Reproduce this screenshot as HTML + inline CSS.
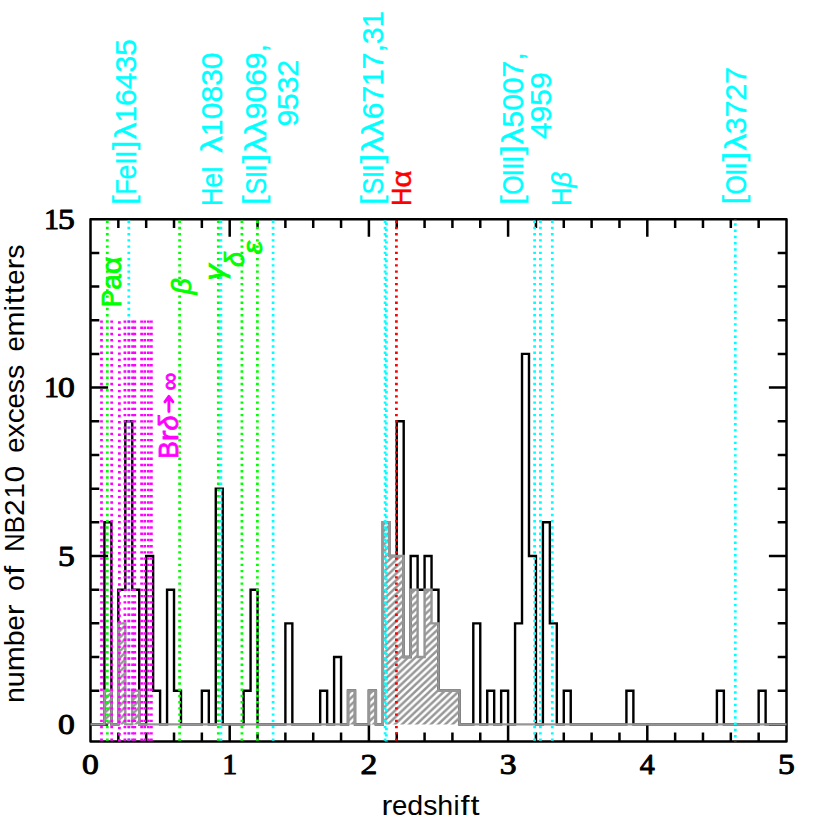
<!DOCTYPE html>
<html lang="en"><head><meta charset="utf-8"><title>NB210 redshift histogram</title>
<style>html,body{margin:0;padding:0;background:#fff}svg{display:block}</style></head>
<body>
<svg width="830" height="830" viewBox="0 0 830 830">
<defs>
<pattern id="hatch" patternUnits="userSpaceOnUse" width="7.2" height="6.8" patternTransform="translate(6.5 3.2)"><path d="M-7.2 6.8 L7.2 -6.8 M-7.2 13.6 L14.4 -6.8 M0 13.6 L14.4 0" stroke="#969696" stroke-width="2.5"/></pattern>
</defs>
<rect width="830" height="830" fill="#ffffff"/>
<g stroke="#000" stroke-width="2.5" fill="none" stroke-linecap="butt">
<rect x="90.50" y="219.20" width="696.00" height="522.20" stroke-linejoin="round"/>
<path d="M118.34 741.40 v-8.80 M118.34 219.20 v8.80 M146.18 741.40 v-8.80 M146.18 219.20 v8.80 M174.02 741.40 v-8.80 M174.02 219.20 v8.80 M201.86 741.40 v-8.80 M201.86 219.20 v8.80 M229.70 741.40 v-17.60 M229.70 219.20 v17.60 M257.54 741.40 v-8.80 M257.54 219.20 v8.80 M285.38 741.40 v-8.80 M285.38 219.20 v8.80 M313.22 741.40 v-8.80 M313.22 219.20 v8.80 M341.06 741.40 v-8.80 M341.06 219.20 v8.80 M368.90 741.40 v-17.60 M368.90 219.20 v17.60 M396.74 741.40 v-8.80 M396.74 219.20 v8.80 M424.58 741.40 v-8.80 M424.58 219.20 v8.80 M452.42 741.40 v-8.80 M452.42 219.20 v8.80 M480.26 741.40 v-8.80 M480.26 219.20 v8.80 M508.10 741.40 v-17.60 M508.10 219.20 v17.60 M535.94 741.40 v-8.80 M535.94 219.20 v8.80 M563.78 741.40 v-8.80 M563.78 219.20 v8.80 M591.62 741.40 v-8.80 M591.62 219.20 v8.80 M619.46 741.40 v-8.80 M619.46 219.20 v8.80 M647.30 741.40 v-17.60 M647.30 219.20 v17.60 M675.14 741.40 v-8.80 M675.14 219.20 v8.80 M702.98 741.40 v-8.80 M702.98 219.20 v8.80 M730.82 741.40 v-8.80 M730.82 219.20 v8.80 M758.66 741.40 v-8.80 M758.66 219.20 v8.80 M90.50 724.40 h17.60 M786.50 724.40 h-17.60 M90.50 690.72 h8.80 M786.50 690.72 h-8.80 M90.50 657.04 h8.80 M786.50 657.04 h-8.80 M90.50 623.36 h8.80 M786.50 623.36 h-8.80 M90.50 589.68 h8.80 M786.50 589.68 h-8.80 M90.50 556.00 h17.60 M786.50 556.00 h-17.60 M90.50 522.32 h8.80 M786.50 522.32 h-8.80 M90.50 488.64 h8.80 M786.50 488.64 h-8.80 M90.50 454.96 h8.80 M786.50 454.96 h-8.80 M90.50 421.28 h8.80 M786.50 421.28 h-8.80 M90.50 387.60 h17.60 M786.50 387.60 h-17.60 M90.50 353.92 h8.80 M786.50 353.92 h-8.80 M90.50 320.24 h8.80 M786.50 320.24 h-8.80 M90.50 286.56 h8.80 M786.50 286.56 h-8.80 M90.50 252.88 h8.80 M786.50 252.88 h-8.80"/>
</g>
<path d="M90.50 724.40 L104.42 724.40 L104.42 522.32 L111.38 522.32 L111.38 724.40 L118.34 724.40 L118.34 589.68 L125.30 589.68 L125.30 421.28 L132.26 421.28 L132.26 589.68 L139.22 589.68 L139.22 724.40 L146.18 724.40 L146.18 556.00 L153.14 556.00 L153.14 690.72 L160.10 690.72 L160.10 724.40 L167.06 724.40 L167.06 589.68 L174.02 589.68 L174.02 690.72 L180.98 690.72 L180.98 724.40 L201.86 724.40 L201.86 690.72 L208.82 690.72 L208.82 724.40 L215.78 724.40 L215.78 488.64 L222.74 488.64 L222.74 724.40 L243.62 724.40 L243.62 690.72 L250.58 690.72 L250.58 589.68 L257.54 589.68 L257.54 724.40 L285.38 724.40 L285.38 623.36 L292.34 623.36 L292.34 724.40 L320.18 724.40 L320.18 690.72 L327.14 690.72 L327.14 724.40 L334.10 724.40 L334.10 657.04 L341.06 657.04 L341.06 724.40 L348.02 724.40 L348.02 690.72 L354.98 690.72 L354.98 724.40 L368.90 724.40 L368.90 690.72 L375.86 690.72 L375.86 724.40 L382.82 724.40 L382.82 522.32 L389.78 522.32 L389.78 556.00 L396.74 556.00 L396.74 421.28 L403.70 421.28 L403.70 657.04 L410.66 657.04 L410.66 556.00 L417.62 556.00 L417.62 589.68 L424.58 589.68 L424.58 556.00 L431.54 556.00 L431.54 589.68 L438.50 589.68 L438.50 690.72 L459.38 690.72 L459.38 724.40 L473.30 724.40 L473.30 623.36 L480.26 623.36 L480.26 724.40 L487.22 724.40 L487.22 690.72 L494.18 690.72 L494.18 724.40 L501.14 724.40 L501.14 690.72 L508.10 690.72 L508.10 724.40 L515.06 724.40 L515.06 623.36 L522.02 623.36 L522.02 353.92 L528.98 353.92 L528.98 556.00 L535.94 556.00 L535.94 724.40 L542.90 724.40 L542.90 522.32 L549.86 522.32 L549.86 623.36 L556.82 623.36 L556.82 724.40 L563.78 724.40 L563.78 690.72 L570.74 690.72 L570.74 724.40 L626.42 724.40 L626.42 690.72 L633.38 690.72 L633.38 724.40 L716.90 724.40 L716.90 690.72 L723.86 690.72 L723.86 724.40 L758.66 724.40 L758.66 690.72 L765.62 690.72 L765.62 724.40 L786.50 724.40" fill="none" stroke="#000" stroke-width="2.4" stroke-linejoin="miter"/>
<path d="M90.50 724.40 L104.42 724.40 L104.42 690.72 L111.38 690.72 L111.38 724.40 L118.34 724.40 L118.34 623.36 L125.30 623.36 L125.30 724.40 L132.26 724.40 L132.26 690.72 L139.22 690.72 L139.22 724.40 L348.02 724.40 L348.02 690.72 L354.98 690.72 L354.98 724.40 L368.90 724.40 L368.90 690.72 L375.86 690.72 L375.86 724.40 L382.82 724.40 L382.82 522.32 L389.78 522.32 L389.78 556.00 L403.70 556.00 L403.70 657.04 L410.66 657.04 L410.66 589.68 L417.62 589.68 L417.62 657.04 L424.58 657.04 L424.58 589.68 L431.54 589.68 L431.54 623.36 L438.50 623.36 L438.50 690.72 L459.38 690.72 L459.38 724.40 L786.50 724.40 Z" fill="url(#hatch)" stroke="none"/>
<path d="M90.50 724.40 L104.42 724.40 L104.42 690.72 L111.38 690.72 L111.38 724.40 L118.34 724.40 L118.34 623.36 L125.30 623.36 L125.30 724.40 L132.26 724.40 L132.26 690.72 L139.22 690.72 L139.22 724.40 L348.02 724.40 L348.02 690.72 L354.98 690.72 L354.98 724.40 L368.90 724.40 L368.90 690.72 L375.86 690.72 L375.86 724.40 L382.82 724.40 L382.82 522.32 L389.78 522.32 L389.78 556.00 L403.70 556.00 L403.70 657.04 L410.66 657.04 L410.66 589.68 L417.62 589.68 L417.62 657.04 L424.58 657.04 L424.58 589.68 L431.54 589.68 L431.54 623.36 L438.50 623.36 L438.50 690.72 L459.38 690.72 L459.38 724.40 L786.50 724.40" fill="none" stroke="#969696" stroke-width="2.4" stroke-linejoin="miter"/>
<g fill="none">
<line x1="128.80" y1="219.20" x2="128.80" y2="741.40" stroke="#00ffff" stroke-width="2.75" stroke-dasharray="2.40 3.84" stroke-dashoffset="4.94"/>
<line x1="220.90" y1="219.20" x2="220.90" y2="741.40" stroke="#00ffff" stroke-width="2.75" stroke-dasharray="2.40 3.84" stroke-dashoffset="4.94"/>
<line x1="273.10" y1="219.20" x2="273.10" y2="741.40" stroke="#00ffff" stroke-width="2.75" stroke-dasharray="2.40 3.84" stroke-dashoffset="4.94"/>
<line x1="385.10" y1="219.20" x2="385.10" y2="741.40" stroke="#00ffff" stroke-width="2.75" stroke-dasharray="2.40 3.84" stroke-dashoffset="4.94"/>
<line x1="386.40" y1="219.20" x2="386.40" y2="741.40" stroke="#00ffff" stroke-width="2.75" stroke-dasharray="2.40 3.84" stroke-dashoffset="2.94"/>
<line x1="534.60" y1="219.20" x2="534.60" y2="741.40" stroke="#00ffff" stroke-width="2.75" stroke-dasharray="2.40 3.84" stroke-dashoffset="4.94"/>
<line x1="540.40" y1="219.20" x2="540.40" y2="741.40" stroke="#00ffff" stroke-width="2.75" stroke-dasharray="2.40 3.84" stroke-dashoffset="4.94"/>
<line x1="552.30" y1="219.20" x2="552.30" y2="741.40" stroke="#00ffff" stroke-width="2.75" stroke-dasharray="2.40 3.84" stroke-dashoffset="4.94"/>
<line x1="735.30" y1="219.20" x2="735.30" y2="741.40" stroke="#00ffff" stroke-width="2.75" stroke-dasharray="2.40 3.84" stroke-dashoffset="2.14"/>
<line x1="101.50" y1="320.54" x2="101.50" y2="741.40" stroke="#ff00ff" stroke-width="2.75" stroke-dasharray="2.40 3.84" stroke-dashoffset="0.20"/>
<line x1="111.70" y1="320.54" x2="111.70" y2="741.40" stroke="#ff00ff" stroke-width="2.75" stroke-dasharray="2.40 3.84" stroke-dashoffset="0.20"/>
<line x1="119.40" y1="320.54" x2="119.40" y2="741.40" stroke="#ff00ff" stroke-width="2.75" stroke-dasharray="2.40 3.84" stroke-dashoffset="5.54"/>
<line x1="124.90" y1="320.54" x2="124.90" y2="741.40" stroke="#ff00ff" stroke-width="2.75" stroke-dasharray="2.40 3.84" stroke-dashoffset="0.20"/>
<line x1="128.90" y1="320.54" x2="128.90" y2="741.40" stroke="#ff00ff" stroke-width="2.75" stroke-dasharray="2.40 3.84" stroke-dashoffset="0.20"/>
<line x1="132.60" y1="320.54" x2="132.60" y2="741.40" stroke="#ff00ff" stroke-width="2.75" stroke-dasharray="2.40 3.84" stroke-dashoffset="0.20"/>
<line x1="134.80" y1="320.54" x2="134.80" y2="741.40" stroke="#ff00ff" stroke-width="2.75" stroke-dasharray="2.40 3.84" stroke-dashoffset="0.20"/>
<line x1="141.60" y1="320.54" x2="141.60" y2="741.40" stroke="#ff00ff" stroke-width="2.75" stroke-dasharray="2.40 3.84" stroke-dashoffset="0.20"/>
<line x1="144.80" y1="320.54" x2="144.80" y2="741.40" stroke="#ff00ff" stroke-width="2.75" stroke-dasharray="2.40 3.84" stroke-dashoffset="0.20"/>
<line x1="148.40" y1="320.54" x2="148.40" y2="741.40" stroke="#ff00ff" stroke-width="2.75" stroke-dasharray="2.40 3.84" stroke-dashoffset="0.20"/>
<line x1="151.40" y1="320.54" x2="151.40" y2="741.40" stroke="#ff00ff" stroke-width="2.75" stroke-dasharray="2.40 3.84" stroke-dashoffset="0.20"/>
</g>
<g fill="none">
<line x1="107.30" y1="219.20" x2="107.30" y2="741.40" stroke="#00ff00" stroke-width="2.75" stroke-dasharray="2.40 3.84" stroke-dashoffset="4.94"/>
<line x1="179.60" y1="219.20" x2="179.60" y2="741.40" stroke="#00ff00" stroke-width="2.75" stroke-dasharray="2.40 3.84" stroke-dashoffset="4.94"/>
<line x1="218.30" y1="219.20" x2="218.30" y2="741.40" stroke="#00ff00" stroke-width="2.75" stroke-dasharray="2.40 3.84" stroke-dashoffset="4.94"/>
<line x1="241.90" y1="219.20" x2="241.90" y2="741.40" stroke="#00ff00" stroke-width="2.75" stroke-dasharray="2.40 3.84" stroke-dashoffset="4.94"/>
<line x1="257.40" y1="219.20" x2="257.40" y2="741.40" stroke="#00ff00" stroke-width="2.75" stroke-dasharray="2.40 3.84" stroke-dashoffset="4.94"/>
<line x1="396.40" y1="219.20" x2="396.40" y2="741.40" stroke="#ff0000" stroke-width="2.75" stroke-dasharray="2.40 3.84" stroke-dashoffset="4.94"/>
</g>
<g transform="translate(135.50 206.10) rotate(-90)" font-family="'Liberation Sans', sans-serif" font-size="29.0" fill="#00ffff" stroke="#00ffff" stroke-width="0.35"><text transform="translate(5.84 -1.3) scale(1.180 1)" text-anchor="middle">[</text><text transform="translate(19.20 0.0) scale(0.860 1)" text-anchor="middle">F</text><text transform="translate(34.23 0.0) scale(0.932 1)" text-anchor="middle">e</text><text x="45.09" y="0.0" text-anchor="middle">I</text><text x="51.77" y="0.0" text-anchor="middle">I</text><text transform="translate(60.95 -1.3) scale(1.180 1)" text-anchor="middle">]</text><text transform="translate(75.15 0.0) scale(1.152 1)" text-anchor="middle">λ</text><text x="91.85" y="0.0" text-anchor="middle">1</text><text transform="translate(108.55 0.0) scale(1.036 1)" text-anchor="middle">6</text><text transform="translate(125.25 0.0) scale(1.036 1)" text-anchor="middle">4</text><text transform="translate(141.95 0.0) scale(1.036 1)" text-anchor="middle">3</text><text transform="translate(158.65 0.0) scale(1.036 1)" text-anchor="middle">5</text></g>
<g transform="translate(222.00 206.10) rotate(-90)" font-family="'Liberation Sans', sans-serif" font-size="29.0" fill="#00ffff" stroke="#00ffff" stroke-width="0.35"><text transform="translate(9.18 0.0) scale(0.877 1)" text-anchor="middle">H</text><text transform="translate(25.88 0.0) scale(0.932 1)" text-anchor="middle">e</text><text x="36.74" y="0.0" text-anchor="middle">I</text><text transform="translate(61.79 0.0) scale(1.152 1)" text-anchor="middle">λ</text><text x="78.49" y="0.0" text-anchor="middle">1</text><text transform="translate(95.19 0.0) scale(1.036 1)" text-anchor="middle">0</text><text transform="translate(111.89 0.0) scale(1.036 1)" text-anchor="middle">8</text><text transform="translate(128.59 0.0) scale(1.036 1)" text-anchor="middle">3</text><text transform="translate(145.29 0.0) scale(1.036 1)" text-anchor="middle">0</text></g>
<g transform="translate(265.60 206.10) rotate(-90)" font-family="'Liberation Sans', sans-serif" font-size="29.0" fill="#00ffff" stroke="#00ffff" stroke-width="0.35"><text transform="translate(5.84 -1.3) scale(1.180 1)" text-anchor="middle">[</text><text transform="translate(20.04 0.0) scale(0.863 1)" text-anchor="middle">S</text><text x="31.73" y="0.0" text-anchor="middle">I</text><text x="38.41" y="0.0" text-anchor="middle">I</text><text transform="translate(47.59 -1.3) scale(1.180 1)" text-anchor="middle">]</text><text transform="translate(61.79 0.0) scale(1.152 1)" text-anchor="middle">λ</text><text transform="translate(78.49 0.0) scale(1.152 1)" text-anchor="middle">λ</text><text transform="translate(95.19 0.0) scale(1.036 1)" text-anchor="middle">9</text><text transform="translate(111.89 0.0) scale(1.036 1)" text-anchor="middle">0</text><text transform="translate(128.59 0.0) scale(1.036 1)" text-anchor="middle">6</text><text transform="translate(145.29 0.0) scale(1.036 1)" text-anchor="middle">9</text><text x="157.81" y="0.0" text-anchor="middle">,</text></g>
<g transform="translate(297.80 126.60) rotate(-90)" font-family="'Liberation Sans', sans-serif" font-size="29.0" fill="#00ffff" stroke="#00ffff" stroke-width="0.35"><text transform="translate(8.35 0.0) scale(1.036 1)" text-anchor="middle">9</text><text transform="translate(25.05 0.0) scale(1.036 1)" text-anchor="middle">5</text><text transform="translate(41.75 0.0) scale(1.036 1)" text-anchor="middle">3</text><text transform="translate(58.45 0.0) scale(1.036 1)" text-anchor="middle">2</text></g>
<g transform="translate(383.20 206.10) rotate(-90)" font-family="'Liberation Sans', sans-serif" font-size="29.0" fill="#00ffff" stroke="#00ffff" stroke-width="0.35"><text transform="translate(5.84 -1.3) scale(1.180 1)" text-anchor="middle">[</text><text transform="translate(20.04 0.0) scale(0.863 1)" text-anchor="middle">S</text><text x="31.73" y="0.0" text-anchor="middle">I</text><text x="38.41" y="0.0" text-anchor="middle">I</text><text transform="translate(47.59 -1.3) scale(1.180 1)" text-anchor="middle">]</text><text transform="translate(61.79 0.0) scale(1.152 1)" text-anchor="middle">λ</text><text transform="translate(78.49 0.0) scale(1.152 1)" text-anchor="middle">λ</text><text transform="translate(95.19 0.0) scale(1.036 1)" text-anchor="middle">6</text><text transform="translate(111.89 0.0) scale(1.036 1)" text-anchor="middle">7</text><text x="128.59" y="0.0" text-anchor="middle">1</text><text transform="translate(145.29 0.0) scale(1.036 1)" text-anchor="middle">7</text><text x="157.81" y="0.0" text-anchor="middle">,</text><text transform="translate(170.34 0.0) scale(1.036 1)" text-anchor="middle">3</text><text x="187.04" y="0.0" text-anchor="middle">1</text></g>
<g transform="translate(411.40 206.10) rotate(-90)" font-family="'Liberation Sans', sans-serif" font-size="27.0" fill="#ff0000" stroke="#ff0000" stroke-width="0.45"><text transform="translate(9.18 0.0) scale(0.942 1)" text-anchor="middle">H</text><text transform="translate(27.14 0.0) scale(1.124 1)" text-anchor="middle">α</text></g>
<g transform="translate(523.30 206.00) rotate(-90)" font-family="'Liberation Sans', sans-serif" font-size="29.0" fill="#00ffff" stroke="#00ffff" stroke-width="0.35"><text transform="translate(5.84 -1.3) scale(1.180 1)" text-anchor="middle">[</text><text transform="translate(20.88 0.0) scale(0.860 1)" text-anchor="middle">O</text><text x="33.40" y="0.0" text-anchor="middle">I</text><text x="40.08" y="0.0" text-anchor="middle">I</text><text x="46.76" y="0.0" text-anchor="middle">I</text><text transform="translate(55.94 -1.3) scale(1.180 1)" text-anchor="middle">]</text><text transform="translate(70.14 0.0) scale(1.152 1)" text-anchor="middle">λ</text><text transform="translate(86.84 0.0) scale(1.036 1)" text-anchor="middle">5</text><text transform="translate(103.54 0.0) scale(1.036 1)" text-anchor="middle">0</text><text transform="translate(120.24 0.0) scale(1.036 1)" text-anchor="middle">0</text><text transform="translate(136.94 0.0) scale(1.036 1)" text-anchor="middle">7</text><text x="149.47" y="0.0" text-anchor="middle">,</text></g>
<g transform="translate(550.70 139.10) rotate(-90)" font-family="'Liberation Sans', sans-serif" font-size="29.0" fill="#00ffff" stroke="#00ffff" stroke-width="0.35"><text transform="translate(8.35 0.0) scale(1.036 1)" text-anchor="middle">4</text><text transform="translate(25.05 0.0) scale(1.036 1)" text-anchor="middle">9</text><text transform="translate(41.75 0.0) scale(1.036 1)" text-anchor="middle">5</text><text transform="translate(58.45 0.0) scale(1.036 1)" text-anchor="middle">9</text></g>
<g transform="translate(571.00 206.00) rotate(-90)" font-family="'Liberation Sans', sans-serif" font-size="27.0" fill="#00ffff" stroke="#00ffff" stroke-width="0.35"><text transform="translate(9.18 0.0) scale(0.942 1)" text-anchor="middle">H</text><text transform="translate(26.30 0.0) scale(1.029 1)" text-anchor="middle" font-style="italic">β</text></g>
<g transform="translate(745.60 205.70) rotate(-90)" font-family="'Liberation Sans', sans-serif" font-size="29.0" fill="#00ffff" stroke="#00ffff" stroke-width="0.35"><text transform="translate(5.84 -1.3) scale(1.180 1)" text-anchor="middle">[</text><text transform="translate(20.88 0.0) scale(0.860 1)" text-anchor="middle">O</text><text x="33.40" y="0.0" text-anchor="middle">I</text><text x="40.08" y="0.0" text-anchor="middle">I</text><text transform="translate(49.26 -1.3) scale(1.180 1)" text-anchor="middle">]</text><text transform="translate(63.46 0.0) scale(1.152 1)" text-anchor="middle">λ</text><text transform="translate(80.16 0.0) scale(1.036 1)" text-anchor="middle">3</text><text transform="translate(96.86 0.0) scale(1.036 1)" text-anchor="middle">7</text><text transform="translate(113.56 0.0) scale(1.036 1)" text-anchor="middle">2</text><text transform="translate(130.26 0.0) scale(1.036 1)" text-anchor="middle">7</text></g>
<g transform="translate(121.00 307.30) rotate(-90)" font-family="'Liberation Sans', sans-serif" font-size="28.0" fill="#00ff00" stroke="#00ff00" stroke-width="0.8"><text transform="translate(8.77 0.0) scale(0.939 1)" text-anchor="middle">P</text><text x="25.47" y="0.0" text-anchor="middle">a</text><text transform="translate(42.17 0.0) scale(1.083 1)" text-anchor="middle">α</text></g>
<g transform="translate(190.50 294.30) rotate(-90)" font-family="'Liberation Sans', sans-serif" font-size="28.0" fill="#00ff00" stroke="#00ff00" stroke-width="0.8"><text x="7.93" y="0.0" text-anchor="middle" font-style="italic">β</text></g>
<g transform="translate(223.50 280.50) rotate(-90)" font-family="'Liberation Sans', sans-serif" font-size="28.0" fill="#00ff00" stroke="#00ff00" stroke-width="0.8"><text transform="translate(7.93 0.0) scale(1.133 1)" text-anchor="middle" font-style="italic">γ</text></g>
<g transform="translate(244.30 267.10) rotate(-90)" font-family="'Liberation Sans', sans-serif" font-size="28.0" fill="#00ff00" stroke="#00ff00" stroke-width="0.8"><text transform="translate(7.51 0.0) scale(0.965 1)" text-anchor="middle" font-style="italic">δ</text></g>
<g transform="translate(261.80 254.30) rotate(-90)" font-family="'Liberation Sans', sans-serif" font-size="28.0" fill="#00ff00" stroke="#00ff00" stroke-width="0.8"><text transform="translate(6.68 0.0) scale(1.084 1)" text-anchor="middle" font-style="italic">ε</text></g>
<g transform="translate(178.2 458.8) rotate(-90)" font-family="'Liberation Sans', sans-serif" font-size="28" fill="#ff00ff" stroke="#ff00ff" stroke-width="0.8"><text transform="translate(8.77 0.0) scale(0.939 1)" text-anchor="middle">B</text><text transform="translate(22.96 0.0) scale(1.164 1)" text-anchor="middle">r</text><text transform="translate(35.91 0.0) scale(0.965 1)" text-anchor="middle" font-style="italic">δ</text><text x="77.3" y="0" text-anchor="middle" font-size="25">∞</text><path d="M47.3 -9.3 H62.2 M57 -13.3 L62.4 -9.3 L57 -5.3" fill="none" stroke-width="2.9" stroke-linecap="round" stroke-linejoin="round"/></g>
<g transform="translate(23.50 703.00) rotate(-90)" font-family="'Liberation Sans', sans-serif" font-size="27.5" fill="#000" ><text transform="translate(7.93 0.0) scale(1.038 1)" text-anchor="middle">n</text><text transform="translate(23.80 0.0) scale(1.038 1)" text-anchor="middle">u</text><text transform="translate(44.25 0.0) scale(1.094 1)" text-anchor="middle">m</text><text transform="translate(64.71 0.0) scale(1.038 1)" text-anchor="middle">b</text><text x="80.16" y="0.0" text-anchor="middle">e</text><text transform="translate(93.10 0.0) scale(1.180 1)" text-anchor="middle">r</text><text transform="translate(119.82 0.0) scale(1.038 1)" text-anchor="middle">o</text><text transform="translate(132.76 0.0) scale(1.180 1)" text-anchor="middle">f</text><text transform="translate(160.32 0.0) scale(0.925 1)" text-anchor="middle">N</text><text transform="translate(178.27 0.0) scale(0.956 1)" text-anchor="middle">B</text><text transform="translate(195.39 0.0) scale(1.092 1)" text-anchor="middle">2</text><text x="212.09" y="0.0" text-anchor="middle">1</text><text transform="translate(228.79 0.0) scale(1.092 1)" text-anchor="middle">0</text><text x="258.01" y="0.0" text-anchor="middle">e</text><text transform="translate(272.63 0.0) scale(1.032 1)" text-anchor="middle">x</text><text transform="translate(287.24 0.0) scale(1.093 1)" text-anchor="middle">c</text><text x="302.27" y="0.0" text-anchor="middle">e</text><text transform="translate(316.88 0.0) scale(1.032 1)" text-anchor="middle">s</text><text transform="translate(331.08 0.0) scale(1.032 1)" text-anchor="middle">s</text><text x="359.05" y="0.0" text-anchor="middle">e</text><text transform="translate(379.09 0.0) scale(1.094 1)" text-anchor="middle">m</text><text x="394.95" y="0.0" text-anchor="middle">i</text><text transform="translate(403.30 0.0) scale(1.180 1)" text-anchor="middle">t</text><text transform="translate(413.32 0.0) scale(1.180 1)" text-anchor="middle">t</text><text x="425.85" y="0.0" text-anchor="middle">e</text><text transform="translate(438.79 0.0) scale(1.180 1)" text-anchor="middle">r</text><text transform="translate(451.32 0.0) scale(1.032 1)" text-anchor="middle">s</text></g>
<g transform="translate(381.4 815.3)" font-family="'Liberation Sans', sans-serif" font-size="27.5" fill="#000"><text transform="translate(5.43 0.0) scale(1.180 1)" text-anchor="middle">r</text><text x="18.37" y="0.0" text-anchor="middle">e</text><text transform="translate(33.82 0.0) scale(1.038 1)" text-anchor="middle">d</text><text transform="translate(48.85 0.0) scale(1.032 1)" text-anchor="middle">s</text><text transform="translate(63.88 0.0) scale(1.038 1)" text-anchor="middle">h</text><text x="75.15" y="0.0" text-anchor="middle">i</text><text transform="translate(83.50 0.0) scale(1.180 1)" text-anchor="middle">f</text><text transform="translate(93.52 0.0) scale(1.180 1)" text-anchor="middle">t</text></g>
<text transform="translate(90.50 774.40) scale(1.12 1)" text-anchor="middle" font-family="'Liberation Serif', serif" font-size="30" fill="#000" stroke="#000" stroke-width="1.0" stroke-linejoin="round">0</text>
<text transform="translate(229.70 774.40) scale(1.00 1)" text-anchor="middle" font-family="'Liberation Serif', serif" font-size="30" fill="#000" stroke="#000" stroke-width="1.0" stroke-linejoin="round">1</text>
<text transform="translate(368.90 774.40) scale(1.12 1)" text-anchor="middle" font-family="'Liberation Serif', serif" font-size="30" fill="#000" stroke="#000" stroke-width="1.0" stroke-linejoin="round">2</text>
<text transform="translate(508.10 774.40) scale(1.12 1)" text-anchor="middle" font-family="'Liberation Serif', serif" font-size="30" fill="#000" stroke="#000" stroke-width="1.0" stroke-linejoin="round">3</text>
<text transform="translate(647.30 774.40) scale(1.00 1)" text-anchor="middle" font-family="'Liberation Serif', serif" font-size="30" fill="#000" stroke="#000" stroke-width="1.0" stroke-linejoin="round">4</text>
<text transform="translate(786.50 774.40) scale(1.12 1)" text-anchor="middle" font-family="'Liberation Serif', serif" font-size="30" fill="#000" stroke="#000" stroke-width="1.0" stroke-linejoin="round">5</text>
<text transform="translate(66.40 733.90) scale(1.12 1)" text-anchor="middle" font-family="'Liberation Serif', serif" font-size="30" fill="#000" stroke="#000" stroke-width="1.0" stroke-linejoin="round">0</text>
<text transform="translate(66.40 565.50) scale(1.12 1)" text-anchor="middle" font-family="'Liberation Serif', serif" font-size="30" fill="#000" stroke="#000" stroke-width="1.0" stroke-linejoin="round">5</text>
<text transform="translate(66.40 397.10) scale(1.12 1)" text-anchor="middle" font-family="'Liberation Serif', serif" font-size="30" fill="#000" stroke="#000" stroke-width="1.0" stroke-linejoin="round">0</text><text transform="translate(51.40 397.10) scale(1.00 1)" text-anchor="middle" font-family="'Liberation Serif', serif" font-size="30" fill="#000" stroke="#000" stroke-width="1.0" stroke-linejoin="round">1</text>
<text transform="translate(66.40 228.70) scale(1.12 1)" text-anchor="middle" font-family="'Liberation Serif', serif" font-size="30" fill="#000" stroke="#000" stroke-width="1.0" stroke-linejoin="round">5</text><text transform="translate(51.40 228.70) scale(1.00 1)" text-anchor="middle" font-family="'Liberation Serif', serif" font-size="30" fill="#000" stroke="#000" stroke-width="1.0" stroke-linejoin="round">1</text>
</svg>
</body></html>
